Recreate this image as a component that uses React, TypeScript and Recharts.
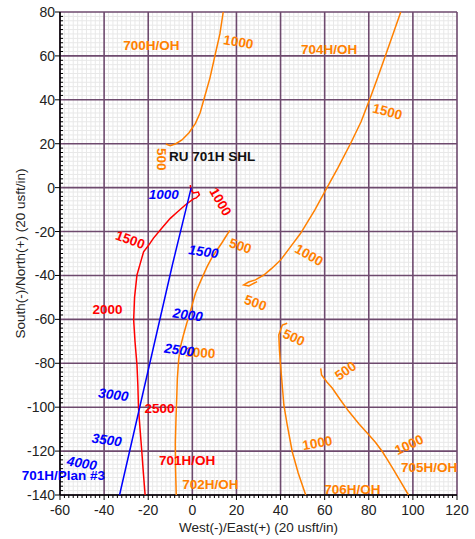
import { ReferenceLine, Scatter, ScatterChart, XAxis, YAxis } from "recharts";

type Pt = { x: number; y: number };
type Tag = { x: number; y: number; text: string };

const xTicks = [-60, -40, -20, 0, 20, 40, 60, 80, 100, 120];
const yTicks = [-140, -120, -100, -80, -60, -40, -20, 0, 20, 40, 60, 80];

// minor grid / tick marks every 2 usft
const minorX = Array.from({ length: 91 }, (_, i) => -60 + i * 2);
const minorY = Array.from({ length: 111 }, (_, i) => -140 + i * 2);
const isMajor = (v: number) => v % 20 === 0;

const plan701: number[][] = [
  [-0.5, 0], [-9, -35], [-33, -140],
];

const oh701: number[][] = [
  [-0.9, 1.2], [-0.7, -1], [0.5, -2.4], [2.7, -2], [3.2, -3.3], [1.8, -4.7],
  [0.5, -5.1], [-3.2, -7.9], [-6.8, -11.1], [-10, -14], [-13.5, -18],
  [-17.6, -23], [-20, -26.5], [-22.1, -29.2], [-23.6, -34.5], [-25.1, -39.8],
  [-26.2, -50], [-26.6, -60.3], [-26, -70], [-25.1, -80.8], [-24.7, -90],
  [-24.4, -100.5], [-23.7, -110], [-22.9, -120.3], [-22.2, -130], [-21.4, -140],
];

const oh700: number[][] = [
  [14, 80], [12.5, 70], [10.5, 61.2], [8, 50], [5.2, 40], [3.5, 34], [1.4, 29.3],
  [-1.5, 25], [-4.7, 21.7], [-7.5, 20], [-10, 19.1], [-12, 19.9],
];

const oh704: number[][] = [
  [94.5, 80], [91, 70], [87.7, 60.5], [84, 50], [80.9, 41.5], [76.5, 30],
  [71.8, 20.2], [66, 9], [60.5, -1], [55.5, -10.2], [49.1, -20.8], [44.5, -27],
  [40, -33], [36, -36.8], [32.4, -39.8], [28.6, -42], [25.5, -43], [23.3, -44.3],
  [25.6, -44.8], [29.4, -42.8],
];

const oh702: number[][] = [
  [17, -19.5], [16, -21], [13.5, -25], [11.2, -28.4], [8.8, -32], [6.7, -36],
  [4, -42], [1.4, -48.1], [-1.2, -57.5], [-2.6, -62], [-4, -67], [-5.5, -73],
  [-6.2, -78.5], [-6.8, -87], [-7, -93.7], [-7.4, -105], [-7.7, -116.4],
  [-7.6, -128], [-7.3, -140],
];

const oh706: number[][] = [
  [43, -61.8], [40.8, -62.6], [39.2, -67.1], [39.5, -74], [40, -80.8],
  [41.5, -99], [43, -108], [45.3, -120.3], [48, -130], [51.4, -140],
];

const oh705: number[][] = [
  [58.2, -82.3], [58.6, -85.3], [61, -88.5], [63.5, -91.4], [67, -96.5],
  [71, -102], [75.5, -107.5], [80.1, -112.7], [83, -116], [86.2, -120.3],
  [88.5, -124], [90.8, -127.8], [94.5, -134], [98, -140],
];

const blueTags: Tag[] = [
  { x: -13, y: -3.3, text: "1000" },
  { x: 5.1, y: -29.2, text: "1500" },
  { x: -2.1, y: -58, text: "2000" },
  { x: -5.9, y: -74, text: "2500" },
  { x: -35.8, y: -94.4, text: "3000" },
  { x: -38.8, y: -115, text: "3500" },
  { x: -50.1, y: -125.6, text: "4000" },
];
const blueAngles = [0, 8, 8, 8, 8, 8, 10];

const redTags: Tag[] = [
  { x: 12.7, y: -6.4, text: "1000" },
  { x: -28.2, y: -23.8, text: "1500" },
  { x: -38.5, y: -55.4, text: "2000" },
  { x: -14.9, y: -100.8, text: "2500" },
  { x: -2.4, y: -124.5, text: "701H/OH" },
];
const redAngles = [60, 20, 0, 0, 0];

const orangeTags: Tag[] = [
  { x: -18.6, y: 64.6, text: "700H/OH" },
  { x: 20.9, y: 66.3, text: "1000" },
  { x: -13.8, y: 12.9, text: "500" },
  { x: 62, y: 63, text: "704H/OH" },
  { x: 88.5, y: 34.6, text: "1500" },
  { x: 52.9, y: -30.7, text: "1000" },
  { x: 28.6, y: -52.5, text: "500" },
  { x: 21.8, y: -26.6, text: "500" },
  { x: 3.6, y: -75.2, text: "1000" },
  { x: 8.2, y: -135, text: "702H/OH" },
  { x: 46, y: -68.3, text: "500" },
  { x: 56.7, y: -116.4, text: "1000" },
  { x: 72.6, y: -137.3, text: "706H/OH" },
  { x: 69.5, y: -83.5, text: "500" },
  { x: 98.3, y: -117.2, text: "1000" },
  { x: 107.4, y: -127.4, text: "705H/OH" },
];
const orangeAngles = [0, 10, 90, 0, 15, 30, 20, 18, 4, 0, 25, -10, 0, -35, -25, 0];

const planTag: Tag[] = [{ x: -58.5, y: -131, text: "701H/Plan #3" }];
const shlTag: Tag[] = [{ x: 9, y: 14.4, text: "RU 701H SHL" }];

const ORANGE = "#ff8000";
const RED = "#ff0000";
const BLUE = "#0000ff";
const MAJOR_GRID = "#6e4a6e";
const MINOR_GRID = "#e8e8e8";
const TICK_TEXT = "#222";

const toPts = (a: number[][]): Pt[] => a.map(([x, y]) => ({ x, y }));

const noDot = () => <g />;

function tagShape(color: string, angles: number[] | null, italic = false) {
  return (props: any) => {
    const { cx, cy, index } = props;
    const text = props.payload?.text ?? "";
    const angle = angles ? angles[index] ?? 0 : 0;
    return (
      <text
        x={cx}
        y={cy}
        fill={color}
        fontSize={13.5}
        fontWeight="bold"
        fontStyle={italic ? "italic" : "normal"}
        textAnchor="middle"
        dominantBaseline="central"
        transform={`rotate(${angle} ${cx} ${cy})`}
      >
        {text}
      </text>
    );
  };
}

// x ticks: all minor marks point down, majors are a bit longer and labelled
function XTick(props: any) {
  const { x, y, payload } = props;
  const v = payload.value;
  const major = isMajor(v);
  return (
    <g>
      <line x1={x} x2={x} y1={y} y2={y + (major ? 5 : 3)} stroke="#000" strokeWidth={1} />
      {major && (
        <text x={x} y={y + 14.5} textAnchor="middle" dominantBaseline="central" fill={TICK_TEXT} fontSize={14}>
          {v}
        </text>
      )}
    </g>
  );
}

// y ticks: minor marks point into the plot, majors point out and are labelled
function YTick(props: any) {
  const { x, y, payload } = props;
  const v = payload.value;
  const major = isMajor(v);
  return (
    <g>
      {major ? (
        <line x1={x - 5} x2={x} y1={y} y2={y} stroke="#000" strokeWidth={1} />
      ) : (
        <line x1={x} x2={x + 3} y1={y} y2={y} stroke="#000" strokeWidth={1} />
      )}
      {major && (
        <text x={x - 5} y={y} textAnchor="end" dominantBaseline="central" fill={TICK_TEXT} fontSize={14}>
          {v}
        </text>
      )}
    </g>
  );
}

const wells: { data: number[][]; color: string }[] = [
  { data: oh700, color: ORANGE },
  { data: oh704, color: ORANGE },
  { data: oh702, color: ORANGE },
  { data: oh706, color: ORANGE },
  { data: oh705, color: ORANGE },
  { data: oh701, color: RED },
  { data: plan701, color: BLUE },
];

export default function App() {
  return (
    <div style={{ position: "absolute", left: 0, top: 0 }}>
      <ScatterChart
        width={475}
        height={539}
        margin={{ top: 12, right: 18, bottom: 0, left: 0 }}
        style={{ fontFamily: '"Liberation Sans", Arial, sans-serif' }}
      >
        {minorX.filter((v) => !isMajor(v)).map((v) => (
          <ReferenceLine key={`mx${v}`} x={v} stroke={MINOR_GRID} strokeWidth={1} />
        ))}
        {minorY.filter((v) => !isMajor(v)).map((v) => (
          <ReferenceLine key={`my${v}`} y={v} stroke={MINOR_GRID} strokeWidth={1} />
        ))}
        {xTicks.map((v) => (
          <ReferenceLine key={`gx${v}`} x={v} stroke={MAJOR_GRID} strokeWidth={1.6} />
        ))}
        {yTicks.map((v) => (
          <ReferenceLine key={`gy${v}`} y={v} stroke={MAJOR_GRID} strokeWidth={1.6} />
        ))}
        <XAxis
          type="number"
          dataKey="x"
          domain={[-60, 120]}
          ticks={minorX}
          interval={0}
          height={44}
          tickSize={0}
          tickMargin={0}
          tickLine={false}
          axisLine={{ stroke: "#000", strokeWidth: 1.5 }}
          tick={XTick}
          label={{
            value: "West(-)/East(+) (20 usft/in)",
            position: "insideBottom",
            offset: 7,
            fill: TICK_TEXT,
            fontSize: 13.5,
          }}
        />
        <YAxis
          type="number"
          dataKey="y"
          domain={[-140, 80]}
          ticks={minorY}
          interval={0}
          width={60}
          tickSize={0}
          tickMargin={0}
          tickLine={false}
          axisLine={{ stroke: "#000", strokeWidth: 1.5 }}
          tick={YTick}
          label={{
            value: "South(-)/North(+) (20 usft/in)",
            angle: -90,
            position: "insideLeft",
            offset: 20,
            fill: TICK_TEXT,
            fontSize: 13.5,
            style: { textAnchor: "middle" },
          }}
        />
        {wells.map((w, i) => (
          <Scatter
            key={i}
            data={toPts(w.data)}
            line={{ stroke: w.color, strokeWidth: 1.5 }}
            lineType="joint"
            shape={noDot}
            isAnimationActive={false}
          />
        ))}
        <Scatter data={orangeTags} shape={tagShape(ORANGE, orangeAngles)} isAnimationActive={false} />
        <Scatter data={redTags} shape={tagShape(RED, redAngles)} isAnimationActive={false} />
        <Scatter data={blueTags} shape={tagShape(BLUE, blueAngles, true)} isAnimationActive={false} />
        <Scatter data={planTag} shape={tagShape(BLUE, null)} isAnimationActive={false} />
        <Scatter data={shlTag} shape={tagShape("#111", null)} isAnimationActive={false} />
      </ScatterChart>
    </div>
  );
}
